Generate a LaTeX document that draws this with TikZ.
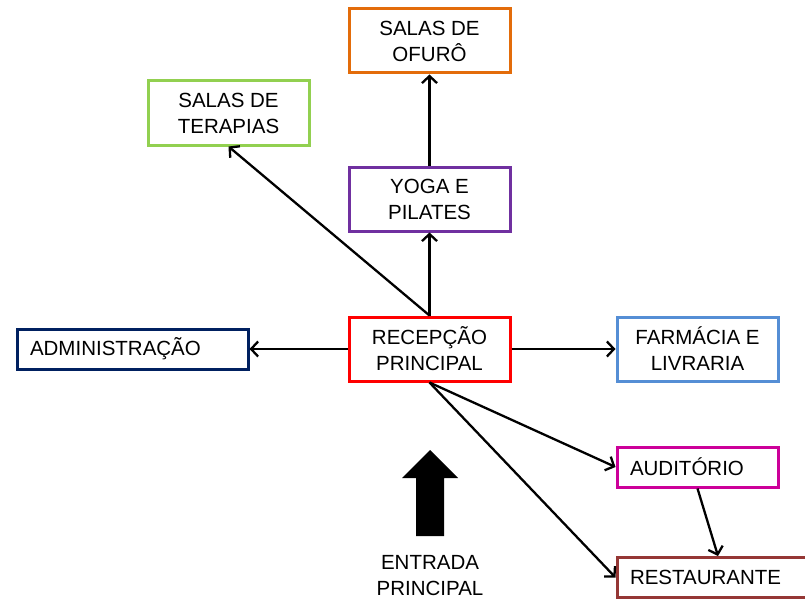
\documentclass[tikz,border=0pt]{standalone}
\usepackage{fontspec}
\setmainfont{Liberation Sans}
\usepackage{tikz}
\usetikzlibrary{arrows.meta}
\definecolor{ofurocol}{HTML}{E36C0A}
\definecolor{terapiacol}{HTML}{92D050}
\definecolor{yogacol}{HTML}{7030A0}
\definecolor{admcol}{HTML}{002060}
\definecolor{farmcol}{HTML}{558ED5}
\definecolor{audcol}{HTML}{CC0099}
\definecolor{restcol}{HTML}{953735}
\tikzset{%
  every room/.style={
    rectangle,
    draw,
    line width=3pt,
    fill=white,
    minimum width=161pt,
    minimum height=64pt,
    align=center,
    font=\fontsize{20.5}{26}\selectfont
  },
  room left/.style={
    minimum height=40pt,
    inner xsep=13pt,
    align=left
  },
  link/.style={
    ->,
    line width=2.3pt
  },
}

\begin{document}
\begin{tikzpicture}[x=1pt, y=-1pt, >={Straight Barb[length=7pt,width=15pt]}]
        \useasboundingbox (0,0) rectangle (805,599);

        \node [every room, draw=ofurocol] (ofuro) at (429.5,41) {SALAS DE\\OFURÔ};
        \node [every room, draw=terapiacol] (terapias) at (228.5,113) {SALAS DE\\TERAPIAS};
        \node [every room, draw=yogacol] (yoga) at (429.5,199) {YOGA E\\PILATES};
        \node [every room, draw=red] (recepcao) at (429.5,349) {RECEPÇÃO\\PRINCIPAL};
        \node [every room, draw=farmcol] (farmacia) at (697.5,349) {FARMÁCIA E\\LIVRARIA};
        \node [every room, room left, draw=admcol, text width=205pt,
          minimum width=231pt, inner xsep=13pt] (admin) at (132.5,349) {ADMINISTRAÇÃO};
        \node [every room, room left, draw=audcol, text width=135pt] (auditorio) at (697.5,467) {AUDITÓRIO};
        \node [every room, room left, draw=restcol, text width=168pt,
          minimum width=194pt] (restaurante) at (714,577.5) {RESTAURANTE};

        % entrada
        \fill (416,536) -- (416,478) -- (402,478) -- (430,450) -- (458,478)
          -- (444,478) -- (444,536) -- cycle;
        \node [align=center, font=\fontsize{20.5}{26}\selectfont] (entrada) at (430,576) {ENTRADA\\PRINCIPAL};

        \draw [link] (recepcao.north) -- (yoga.south);
        \draw [link] (yoga.north) -- (ofuro.south);
        \draw [link] (recepcao.north) -- (terapias.south);
        \draw [link] (recepcao.west) -- (admin.east);
        \draw [link] (recepcao.east) -- (farmacia.west);
        \draw [link] (recepcao.south) -- (auditorio.west);
        \draw [link] (recepcao.south) -- (restaurante.west);
        \draw [link] (auditorio.south) -- ([xshift=4pt]restaurante.north);
\end{tikzpicture}
\end{document}
